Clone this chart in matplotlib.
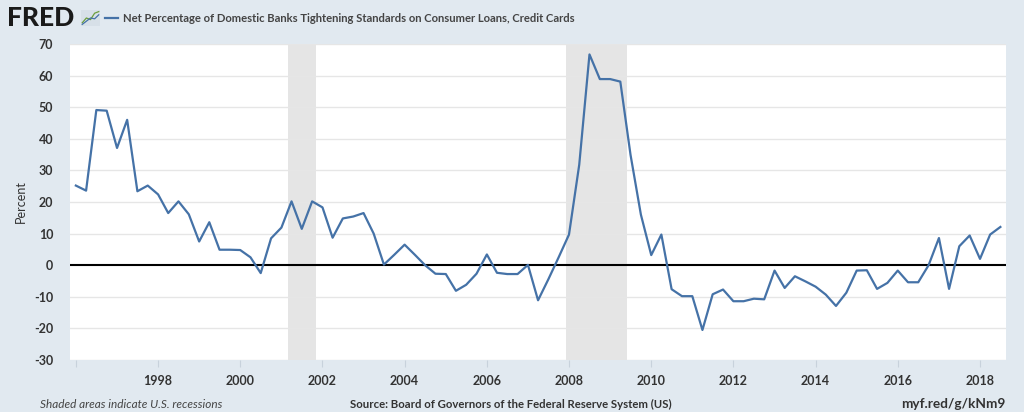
import numpy as np
import pandas as pd
import matplotlib
matplotlib.use("Agg")
import matplotlib.pyplot as plt

# Net percentage tightening, credit cards, quarterly 1996Q1 - 2018Q3
values = [
    25.2, 23.6, 49.1, 48.9, 37.1, 46.0, 23.4, 25.2, 22.4, 16.5,
    20.2, 16.1, 7.5, 13.6, 4.9, 4.9, 4.8, 2.5, -2.5, 8.5,
    11.9, 20.2, 11.5, 20.2, 18.3, 8.7, 14.8, 15.4, 16.5, 10.0,
    0.2, 3.3, 6.5, 3.3, 0.0, -2.7, -2.8, -8.1, -6.2, -2.7,
    3.4, -2.4, -2.8, -2.8, 0.1, -11.1, -4.5, 2.5, 9.7, 31.8,
    66.7, 58.9, 58.9, 58.1, 34.9, 16.0, 3.2, 9.7, -7.6, -9.8,
    -9.8, -20.5, -9.2, -7.7, -11.4, -11.4, -10.6, -10.8, -1.7, -7.2,
    -3.5, -5.1, -6.8, -9.3, -12.9, -8.7, -1.7, -1.6, -7.5, -5.6,
    -1.7, -5.4, -5.4, 0.0, 8.6, -7.5, 6.0, 9.4, 2.0, 9.7,
    12.1,
]
dates = pd.date_range("1996-01-01", periods=len(values), freq="QS")

recession_starts = ["2001-03-01", "2007-12-01"]
recession_ends = ["2001-11-01", "2009-06-01"]

tick_years = list(range(1996, 2019, 2))
y_ticks = [-30, -20, -10, 0, 10, 20, 30, 40, 50, 60, 70]

title = "Net Percentage of Domestic Banks Tightening Standards on Consumer Loans, Credit Cards"

plt.rcParams["font.family"] = ["Lato", "DejaVu Sans"]

bg = "#e1e9f0"
fig = plt.figure(figsize=(10.24, 4.12), dpi=100, facecolor=bg)
ax = fig.add_axes([70 / 1024, 1 - 360 / 412, 936 / 1024, 316 / 412])
ax.set_facecolor("white")

for s, e in zip(recession_starts, recession_ends):
    ax.axvspan(pd.Timestamp(s), pd.Timestamp(e), color="#e5e5e5", lw=0, zorder=0)

for v in y_ticks:
    if v != 0:
        ax.axhline(v, color="#e6e6e6", lw=1, zorder=1)
ax.axhline(0, color="black", lw=1.5, zorder=2)

ax.plot(dates, values, color="#4572a7", lw=1.6, zorder=3)

ax.set_ylim(-30, 70)
ax.set_xlim(pd.Timestamp("1995-11-10"), pd.Timestamp("2018-08-20"))
ax.set_yticks(y_ticks)
ax.set_yticklabels([str(v) for v in y_ticks], fontsize=9, color="#333333", fontweight="bold")
xt = [pd.Timestamp(f"{y}-01-01") for y in tick_years]
ax.set_xticks(xt)
ax.set_xticklabels(["" if y == 1996 else str(y) for y in tick_years],
                   fontsize=9, color="#333333", fontweight="bold")
ax.tick_params(axis="y", length=0, pad=12)
ax.tick_params(axis="x", length=5, color="#c8d2dc", pad=6)
for sp in ax.spines.values():
    sp.set_visible(False)
ax.set_ylabel("Percent", fontsize=9, color="#333333", labelpad=5)

# header
fig.text(7 / 1024, 1 - 18 / 412, "FRED", fontsize=19, fontweight="black",
         color="#1a1a1a", va="center", ha="left")
icon = fig.add_axes([81 / 1024, 1 - 26 / 412, 19 / 1024, 16 / 412])
icon.set_facecolor("#d7e0e8")
icon.plot([0, 1, 2, 3, 4], [0.2, 0.5, 0.4, 0.8, 0.9], color="#6b9e3c", lw=0.9)
icon.plot([0, 1, 2, 3, 4], [0.1, 0.3, 0.5, 0.45, 0.7], color="#4572a7", lw=0.9)
icon.set_xlim(-0.3, 4.3)
icon.set_ylim(0, 1)
icon.set_xticks([])
icon.set_yticks([])
for sp in icon.spines.values():
    sp.set_visible(False)
fig.lines.append(plt.Line2D([105 / 1024, 118 / 1024], [1 - 18 / 412, 1 - 18 / 412],
                            color="#4572a7", lw=1.6, transform=fig.transFigure))
fig.text(123 / 1024, 1 - 18 / 412, title, fontsize=8.15, fontweight="bold",
         color="#444444", va="center", ha="left")

# footer
fig.text(40 / 1024, 1 - 404 / 412, "Shaded areas indicate U.S. recessions",
         fontsize=8.5, style="italic", color="#444444", va="center", ha="left")
fig.text(511 / 1024, 1 - 404 / 412, "Source: Board of Governors of the Federal Reserve System (US)",
         fontsize=8.2, fontweight="bold", color="#333333", va="center", ha="center")
fig.text(1005 / 1024, 1 - 404 / 412, "myf.red/g/kNm9",
         fontsize=9.8, fontweight="bold", color="#333333", va="center", ha="right")

fig.savefig("out.png", dpi=100, facecolor=bg)
